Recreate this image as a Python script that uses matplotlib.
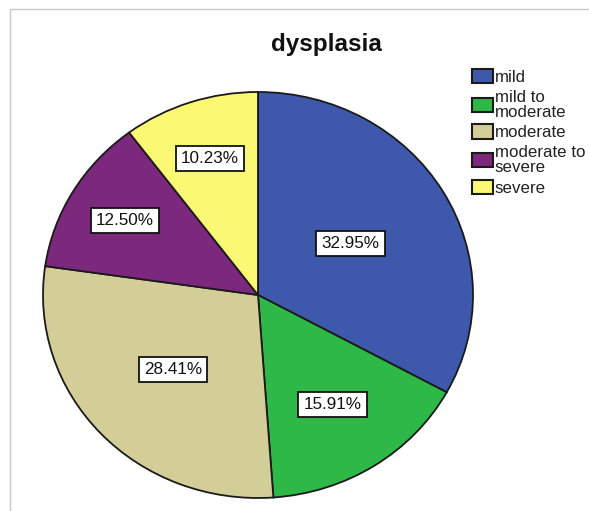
import matplotlib
matplotlib.use("Agg")
import matplotlib.pyplot as plt
from matplotlib.patches import Rectangle
import numpy as np

title = "dysplasia"
categories = ["mild", "mild to moderate", "moderate", "moderate to severe", "severe"]
legend_labels = ["mild", "mild to\nmoderate", "moderate", "moderate to\nsevere", "severe"]
percentages = [32.95, 15.91, 28.41, 12.50, 10.23]
colors = ["#3E58AC", "#2EB848", "#D3CE97", "#7C287D", "#FBF873"]
label_radius = [0.50, 0.64, 0.54, 0.72, 0.71]

plt.rcParams['font.family'] = ['Liberation Sans', 'DejaVu Sans']

W, H = 589, 511
fig = plt.figure(figsize=(W / 100, H / 100), dpi=100)

# light frame (only top and left edges visible in the crop)
fig.patches.append(Rectangle((10 / W, -0.2), 1.5, (1 - 9 / H) + 0.2,
                             transform=fig.transFigure, fill=False,
                             edgecolor="#c8c8c8", linewidth=1.0))

cx, cy, rx, ry = 258, 295, 215, 203
ax = fig.add_axes([(cx - rx) / W, (H - cy - ry) / H, 2 * rx / W, 2 * ry / H])
wedges, _ = ax.pie(percentages, colors=colors, startangle=90, counterclock=False,
                   wedgeprops=dict(edgecolor="#1a1a1a", linewidth=1.3))
for w in wedges:
    w.set_clip_on(False)
ax.set_aspect('auto')
ax.set_xlim(-1, 1)
ax.set_ylim(-1, 1)
ax.axis('off')

for w, pct, r in zip(wedges, percentages, label_radius):
    ang = np.deg2rad((w.theta1 + w.theta2) / 2)
    ax.text(r * np.cos(ang), r * np.sin(ang), f"{pct:.2f}%", ha='center', va='center',
            fontsize=12.3, color="#111111",
            bbox=dict(boxstyle='square,pad=0.3', facecolor='white',
                      edgecolor='#111111', linewidth=1.3))

fig.text(326 / W, 1 - 45 / H, title, ha='center', va='center',
         fontsize=17.5, fontweight='bold', color="#111111")

leg = fig.legend(wedges, legend_labels, loc='upper left',
                 bbox_to_anchor=(472 / W, 1 - 69 / H), frameon=False,
                 fontsize=12.2, handlelength=1.25, handleheight=0.92,
                 handletextpad=0.08, labelspacing=0.28, borderpad=0,
                 borderaxespad=0)
for t in leg.get_texts():
    t.set_linespacing(1.0)
    t.set_color("#222222")
for h in leg.legend_handles:
    h.set_linewidth(1.5)
    h.set_edgecolor("#1a1a1a")

fig.savefig("out.png", dpi=100, facecolor='white')
